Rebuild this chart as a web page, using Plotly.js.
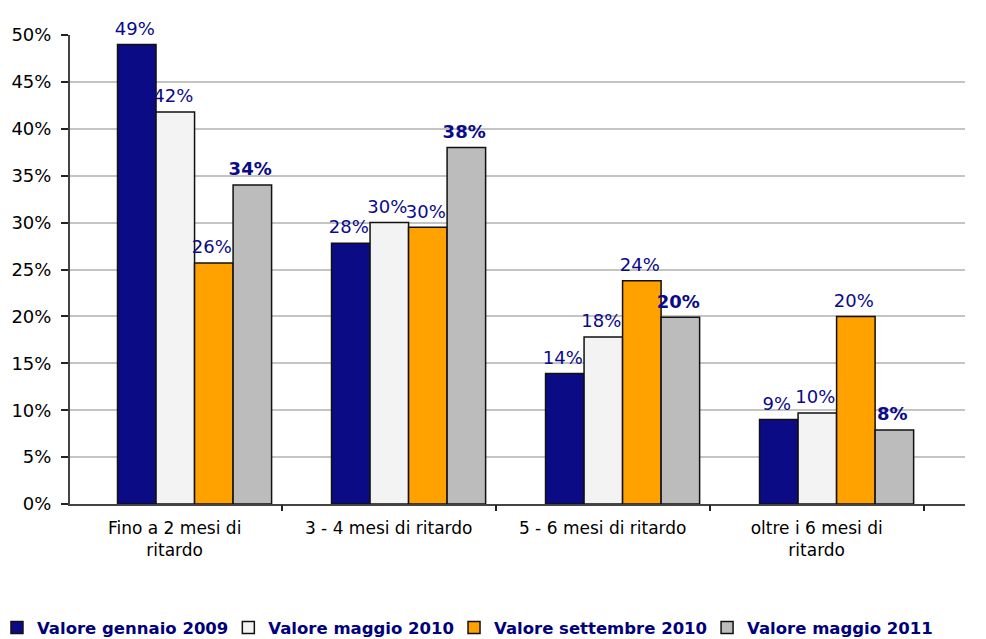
<!DOCTYPE html>
<html>
<head>
<meta charset="utf-8">
<script src="https://cdn.plot.ly/plotly-3.0.1.min.js"></script>
<style>html,body{margin:0;padding:0;background:#fff;}#chart{width:986px;height:639px;}</style>
</head>
<body>
<div id="chart"></div>
<script>
const categories = ["Fino a 2 mesi di<br>ritardo", "3 - 4 mesi di ritardo", "5 - 6 mesi di ritardo", "oltre i 6 mesi di<br>ritardo"];
const seriesNames = ["Valore gennaio 2009", "Valore maggio 2010", "Valore settembre 2010", "Valore maggio 2011"];
const gennaio2009 = [49.0, 27.8, 13.9, 9.0];
const maggio2010 = [41.8, 30.0, 17.8, 9.7];
const settembre2010 = [25.7, 29.5, 23.8, 20.0];
const maggio2011 = [34.0, 38.0, 19.9, 7.9];
const labelsGennaio2009 = ["49%", "28%", "14%", "9%"];
const labelsMaggio2010 = ["42%", "30%", "18%", "10%"];
const labelsSettembre2010 = ["26%", "30%", "24%", "20%"];
const labelsMaggio2011 = ["34%", "38%", "20%", "8%"];

const colors = ["#0b0b86", "#f3f3f3", "#ffa200", "#bcbcbc"];
const values = [gennaio2009, maggio2010, settembre2010, maggio2011];
const labels = [labelsGennaio2009, labelsMaggio2010, labelsSettembre2010, labelsMaggio2011];

const traces = values.map((v, i) => ({
  type: "bar",
  name: seriesNames[i],
  x: categories,
  y: v,
  text: labels[i],
  texttemplate: "%{text}<sub> </sub>",
  textposition: "outside",
  constraintext: "none",
  cliponaxis: false,
  textfont: {family: "DejaVu Sans", size: 18, color: "#0a0a8a", weight: i === 3 ? "bold" : "normal"},
  marker: {color: colors[i], line: {color: "#111111", width: 1.5}},
  hoverinfo: "skip"
}));

traces.push({
  type: "scatter",
  mode: "markers",
  x: categories,
  y: gennaio2009,
  xaxis: "x2",
  marker: {opacity: 0},
  showlegend: false,
  hoverinfo: "skip"
});

const layout = {
  width: 986,
  height: 639,
  margin: {l: 70, r: 21, t: 35, b: 135, autoexpand: false},
  paper_bgcolor: "#ffffff",
  plot_bgcolor: "#ffffff",
  barmode: "group",
  bargap: 0.28,
  bargroupgap: 0,
  font: {family: "DejaVu Sans", color: "#000000"},
  xaxis: {
    type: "category",
    range: [-0.582, 3.60],
    showline: true,
    linecolor: "#444444",
    linewidth: 2,
    showgrid: false,
    showticklabels: false,
    ticks: "",
    fixedrange: true
  },
  xaxis2: {
    type: "category",
    overlaying: "x",
    anchor: "y",
    side: "bottom",
    range: [-0.489, 3.693],
    showline: false,
    showgrid: false,
    ticks: "outside",
    tickson: "boundaries",
    ticklen: 6,
    tickwidth: 2,
    tickcolor: "#222222",
    ticklabelstandoff: 12,
    tickfont: {family: "DejaVu Sans", size: 17, color: "#000000"},
    fixedrange: true
  },
  yaxis: {
    range: [0, 50],
    dtick: 5,
    ticksuffix: "%",
    showline: true,
    linecolor: "#444444",
    linewidth: 2,
    ticks: "outside",
    ticklen: 7,
    tickwidth: 2,
    tickcolor: "#222222",
    showgrid: true,
    gridcolor: "#c4c4c4",
    gridwidth: 2,
    zeroline: false,
    ticklabelstandoff: 6,
    tickfont: {family: "DejaVu Sans", size: 18, color: "#000000"},
    fixedrange: true
  },
  showlegend: true,
  legend: {
    orientation: "h",
    x: -0.076,
    xanchor: "left",
    y: -0.264,
    yanchor: "middle",
    font: {family: "DejaVu Sans", size: 16.5, color: "#00007a", weight: "bold"},
    itemwidth: 30,
    indentation: -5,
    tracegroupgap: 0,
    traceorder: "normal"
  }
};

Plotly.newPlot("chart", traces, layout, {displayModeBar: false, staticPlot: true});
</script>
</body>
</html>
